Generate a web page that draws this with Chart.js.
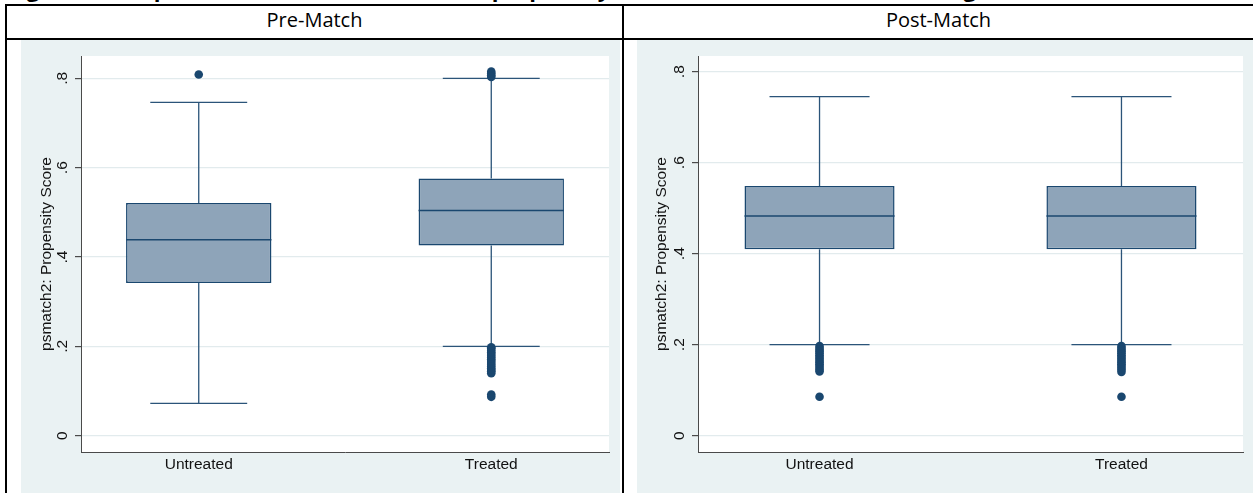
<!DOCTYPE html>
<html>
<head>
  <title>Propensity score box plots</title>
  <script src="https://cdn.jsdelivr.net/npm/chart.js"></script>
  <style>
    body { margin: 0; width: 1253px; height: 493px; overflow: hidden; background: #fff; position: relative; }
    .line { position: absolute; background: #000; }
    .caption { position: absolute; left: 8px; top: -23px; white-space: nowrap; font: bold 22px "Open Sans", sans-serif; color: #000; line-height: 22px; }
    .head { position: absolute; top: 6px; height: 32px; line-height: 38px; text-align: center; font: 20px "Open Sans", sans-serif; color: #000; }
    .panel { position: absolute; top: 40px; height: 453px; background: #eaf2f3; }
  </style>
</head>
<body>
  <div class="caption">Figure 3: Box plots of the distribution of the propensity score, before and after matching</div>
  <div class="line" style="left:5px; top:4px; width:1248px; height:2px"></div>
  <div class="line" style="left:5px; top:38px; width:1248px; height:2px"></div>
  <div class="line" style="left:5px; top:4px; width:2px; height:489px"></div>
  <div class="line" style="left:622px; top:4px; width:2px; height:489px"></div>
  <div class="head" style="left:7px; width:615px">Pre-Match</div>
  <div class="head" style="left:624px; width:629px">Post-Match</div>

  <div class="panel" style="left:21px; width:599px"><canvas id="pre" width="599" height="453"></canvas></div>
  <div class="panel" style="left:637px; width:616px"><canvas id="post" width="616" height="453"></canvas></div>

  <script>
    // categories and axis ticks
    const categories = ["Untreated", "Treated"];
    const xPositions = [0, 1];
    const yTickValues = [0, 0.2, 0.4, 0.6, 0.8];
    const yTickLabels = ["0", ".2", ".4", ".6", ".8"];

    // pre-match box statistics (Untreated, Treated)
    const preLower = [0.0725, 0.200];
    const preQ1 = [0.342, 0.426];
    const preMedian = [0.4385, 0.504];
    const preQ3 = [0.521, 0.576];
    const preUpper = [0.746, 0.800];
    const preOutUntreated = [0.8085];
    const preOutTreated = [0.815, 0.811, 0.807, 0.803,
      0.198, 0.195, 0.191, 0.187, 0.183, 0.179, 0.175, 0.171, 0.167, 0.163,
      0.159, 0.155, 0.151, 0.147, 0.144, 0.140, 0.092, 0.087];

    // post-match box statistics (Untreated, Treated)
    const postLower = [0.200, 0.200];
    const postQ1 = [0.410, 0.410];
    const postMedian = [0.483, 0.483];
    const postQ3 = [0.549, 0.549];
    const postUpper = [0.745, 0.745];
    const postOutUntreated = [0.197, 0.193, 0.189, 0.185, 0.181, 0.177, 0.173,
      0.169, 0.165, 0.161, 0.157, 0.153, 0.149, 0.145, 0.141, 0.0857];
    const postOutTreated = [0.197, 0.193, 0.189, 0.185, 0.181, 0.177, 0.173,
      0.169, 0.165, 0.161, 0.157, 0.153, 0.149, 0.145, 0.140, 0.0857];

    const navy = "#1a476f";
    const axisFont = { family: "'Liberation Sans', Arial, sans-serif", size: 15.5 };

    function makeBoxChart(id, stats, outliers, yMin, yMax, yWidth, rightPad, titlePad) {
      const boxPlugin = {
        id: "boxes" + id,
        beforeDraw(chart) {
          const a = chart.chartArea;
          chart.ctx.save();
          chart.ctx.fillStyle = "#ffffff";
          chart.ctx.fillRect(a.left, a.top, a.right - a.left, a.bottom - a.top);
          chart.ctx.restore();
        },
        beforeDatasetsDraw(chart) {
          // whiskers and caps
          const ctx = chart.ctx, ys = chart.scales.y;
          const bars = chart.getDatasetMeta(1).data;
          ctx.save();
          ctx.strokeStyle = "#2b5479";
          ctx.lineWidth = 1.3;
          bars.forEach((bar, i) => {
            const cap = bar.width / 3;
            [[stats.q3[i], stats.upper[i]], [stats.q1[i], stats.lower[i]]].forEach(([from, to]) => {
              const y0 = ys.getPixelForValue(from), y1 = ys.getPixelForValue(to);
              ctx.beginPath();
              ctx.moveTo(bar.x, y0); ctx.lineTo(bar.x, y1);
              ctx.moveTo(bar.x - cap, y1); ctx.lineTo(bar.x + cap, y1);
              ctx.stroke();
            });
          });
          ctx.restore();
        },
        afterDatasetsDraw(chart) {
          // median line
          const ctx = chart.ctx, ys = chart.scales.y;
          const bars = chart.getDatasetMeta(1).data;
          ctx.save();
          ctx.strokeStyle = navy;
          ctx.lineWidth = 1.5;
          bars.forEach((bar, i) => {
            const y = ys.getPixelForValue(stats.median[i]);
            ctx.beginPath();
            ctx.moveTo(bar.x - bar.width / 2, y);
            ctx.lineTo(bar.x + bar.width / 2, y);
            ctx.stroke();
          });
          ctx.restore();
        }
      };

      const outlierPoints = [];
      outliers.forEach((list, i) => list.forEach(v => outlierPoints.push({ x: xPositions[i], y: v })));

      return new Chart(document.getElementById(id), {
        type: "bar",
        data: {
          datasets: [
            {
              type: "scatter",
              data: outlierPoints,
              pointRadius: 4.3,
              pointBackgroundColor: navy,
              pointBorderWidth: 0
            },
            {
              type: "bar",
              data: xPositions.map((x, i) => ({ x: x, y: [stats.q1[i], stats.q3[i]] })),
              backgroundColor: "#8ea4b9",
              borderColor: navy,
              borderWidth: 1.5,
              borderSkipped: false,
              barPercentage: 0.497,
              categoryPercentage: 1
            }
          ]
        },
        options: {
          responsive: false,
          animation: false,
          layout: { padding: { left: 0, top: 16, right: rightPad, bottom: 0 } },
          plugins: { legend: { display: false }, tooltip: { enabled: false } },
          scales: {
            x: {
              type: "linear",
              min: -0.4025,
              max: 1.4025,
              offset: false,
              afterBuildTicks: s => { s.ticks = xPositions.map(v => ({ value: v })); },
              afterFit: s => { s.height = 41; },
              grid: { display: false, drawTicks: false },
              border: { display: true, color: "#4a4a4a", width: 1 },
              ticks: {
                autoSkip: false, maxRotation: 0, padding: 3, color: "#111", font: axisFont,
                callback: v => categories[xPositions.indexOf(v)]
              }
            },
            y: {
              type: "linear",
              min: yMin,
              max: yMax,
              afterBuildTicks: s => { s.ticks = yTickValues.map(v => ({ value: v })); },
              afterFit: s => { s.width = yWidth; },
              grid: { color: "#e2ebed", lineWidth: 1.2, tickColor: "#4a4a4a", tickLength: 6 },
              border: { display: true, color: "#4a4a4a", width: 1 },
              ticks: {
                autoSkip: false, minRotation: 90, maxRotation: 90, crossAlign: "center",
                padding: 6, color: "#111", font: axisFont,
                callback: (v, i) => yTickLabels[i]
              },
              title: {
                display: true, text: "psmatch2: Propensity Score", color: "#111",
                font: axisFont, padding: { top: titlePad, bottom: 0 }
              }
            }
          }
        },
        plugins: [boxPlugin]
      });
    }

    makeBoxChart("pre",
      { lower: preLower, q1: preQ1, median: preMedian, q3: preQ3, upper: preUpper },
      [preOutUntreated, preOutTreated], -0.0365, 0.850, 60, 11, 16);

    makeBoxChart("post",
      { lower: postLower, q1: postQ1, median: postMedian, q3: postQ3, upper: postUpper },
      [postOutUntreated, postOutTreated], -0.0358, 0.8345, 61, 10, 15);
  </script>
</body>
</html>
